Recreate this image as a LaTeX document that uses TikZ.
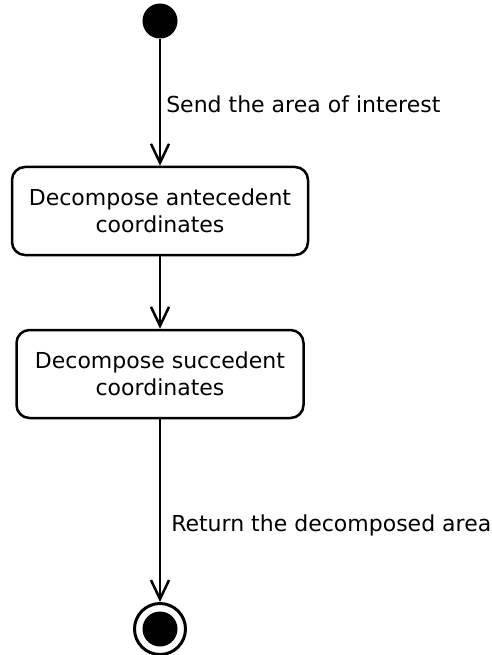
\documentclass[tikz,border=0pt]{standalone}
\usepackage{fontspec}
\setmainfont{DejaVu Sans}
\usetikzlibrary{arrows.meta}
\begin{document}
\begin{tikzpicture}[x=1pt,y=-1pt,
  every node/.style={font=\fontsize{22}{27}\selectfont},
  actbox/.style={draw, line width=2.5pt, rounded corners=13pt, align=center, inner sep=0pt},
  arr/.style={line width=2.5pt, -{Straight Barb[length=19pt,width=18pt,line width=2.5pt]}},
  lbl/.style={anchor=west, inner sep=0pt}]
\useasboundingbox (0,0) rectangle (491,655);
\node[circle, fill=black, minimum size=35pt, inner sep=0pt] (start) at (160,21) {};
\node[actbox, minimum width=296pt, minimum height=88pt] (b1) at (160,211) {Decompose antecedent\\coordinates};
\node[actbox, minimum width=287pt, minimum height=88pt] (b2) at (160,374) {Decompose succedent\\coordinates};
\node[circle, draw, line width=3pt, minimum size=51pt, inner sep=0pt] (end) at (160,629) {};
\fill (end.center) circle (17.5pt);
\draw[arr] (start) -- node[lbl, pos=0.52, xshift=5pt] {Send the area of interest} (b1);
\draw[arr] (b1) -- (b2);
\draw[arr] (b2) -- node[lbl, pos=0.58, xshift=10pt] {Return the decomposed area} (end);
\end{tikzpicture}
\end{document}
